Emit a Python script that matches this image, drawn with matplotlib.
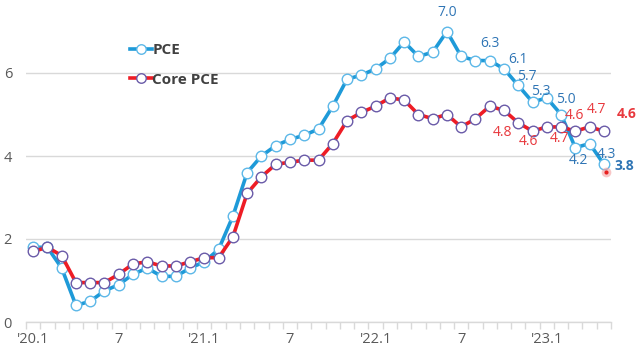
import matplotlib
matplotlib.use("Agg")
import matplotlib.pyplot as plt
import matplotlib.transforms as mtransforms

# ---- data ----
pce = [1.8, 1.8, 1.3, 0.4, 0.5, 0.75, 0.9, 1.15, 1.3, 1.1, 1.1, 1.3,
       1.45, 1.75, 2.55, 3.6, 4.0, 4.25, 4.4, 4.5, 4.65, 5.2, 5.85, 5.95,
       6.1, 6.35, 6.75, 6.4, 6.5, 7.0, 6.4, 6.3, 6.3, 6.1, 5.7, 5.3,
       5.4, 5.0, 4.2, 4.3, 3.8]
core = [1.7, 1.8, 1.6, 0.95, 0.95, 0.95, 1.15, 1.4, 1.45, 1.35, 1.35, 1.45,
        1.55, 1.55, 2.05, 3.1, 3.5, 3.8, 3.85, 3.9, 3.9, 4.3, 4.85, 5.05,
        5.2, 5.4, 5.35, 5.0, 4.9, 5.0, 4.7, 4.9, 5.2, 5.1, 4.8, 4.6,
        4.7, 4.7, 4.6, 4.7, 4.6]
tick_pos = [0, 6, 12, 18, 24, 30, 36]
tick_labels = ["'20.1", "7", "'21.1", "7", "'22.1", "7", "'23.1"]
pce_labels = {29: "7.0", 32: "6.3", 33: "6.1", 34: "5.7", 35: "5.3",
              37: "5.0", 38: "4.2", 39: "4.3", 40: "3.8"}
core_labels = {34: "4.8", 35: "4.6", 37: "4.7", 38: "4.6", 39: "4.7", 40: "4.6"}

# ---- style ----
plt.rcParams["font.family"] = ["Open Sans", "DejaVu Sans"]
blue = "#1E9AD8"
blue_edge = "#5DB8E8"
red = "#EE1C25"
purple_edge = "#6A5BA8"
lbl_blue = "#2F75B5"
lbl_red = "#E8383D"
gray_txt = "#595959"
grid_c = "#D9D9D9"

fig = plt.figure(figsize=(6.4, 3.59), dpi=100)
ax = fig.add_axes([26/640, 37/359, 585/640, 322/359])

x = list(range(len(pce)))
ax.plot(x, pce, color=blue, lw=2.6, marker="o", ms=7.6, mfc="white",
        mec=blue_edge, mew=1.0, label="PCE", zorder=3)
ax.plot(x, core, color=red, lw=2.6, marker="o", ms=7.6, mfc="white",
        mec=purple_edge, mew=1.0, label="Core PCE", zorder=4)

ax.set_xlim(-0.5, len(pce) - 0.5)
ax.set_ylim(0, 322/41.5)
ax.set_yticks([0, 2, 4, 6])
ax.yaxis.grid(True, color=grid_c, lw=1.0)
ax.set_axisbelow(True)
for s in ["top", "right", "left"]:
    ax.spines[s].set_visible(False)
ax.spines["bottom"].set_color(grid_c)
ax.spines["bottom"].set_linewidth(1.0)
ax.tick_params(axis="y", length=0, pad=10, labelsize=10.5, labelcolor=gray_txt)

ax.set_xticks([i - 0.5 for i in range(len(pce) + 1)])
ax.set_xticklabels([])
ax.tick_params(axis="x", which="major", length=5, color=grid_c, width=1)
ax.set_xticks(tick_pos, minor=True)
ax.set_xticklabels(tick_labels, minor=True)
ax.tick_params(axis="x", which="minor", length=0, pad=7, labelsize=10.5,
               labelcolor=gray_txt)

pce_off = {29: (0, 19), 32: (0, 17), 33: (14, 9), 34: (9, 9), 35: (8, 11),
           37: (5, 15), 38: (3, -13), 39: (17, -11), 40: (21, -2)}
core_off = {34: (-16, -10), 35: (-4, -10), 37: (-2, -12), 38: (-1, 16),
            39: (7, 17), 40: (23, 17)}
for i, t in pce_labels.items():
    bold = i == len(pce) - 1
    ax.annotate(t, (i, pce[i]), xytext=pce_off[i], textcoords="offset pixels",
                ha="center", va="center", fontsize=10, color=lbl_blue,
                fontweight="bold" if bold else "normal", zorder=6)
for i, t in core_labels.items():
    bold = i == len(core) - 1
    ax.annotate(t, (i, core[i]), xytext=core_off[i], textcoords="offset pixels",
                ha="center", va="center", fontsize=10, color=lbl_red,
                fontweight="bold" if bold else "normal", zorder=6)

# small red highlight dot below the last PCE point
tr = mtransforms.offset_copy(ax.transData, fig=fig, x=2, y=-8, units="dots")
ax.plot([len(pce) - 1], [pce[-1]], marker="o", ms=7, color="#F4A0A0", alpha=0.6,
        mec="none", transform=tr, zorder=7)
ax.plot([len(pce) - 1], [pce[-1]], marker="o", ms=3, color="#E82020",
        mec="none", transform=tr, zorder=8)

leg = ax.legend(loc="upper left", bbox_to_anchor=(0.178, 0.865), frameon=False,
                fontsize=11, handlelength=1.4, handletextpad=0.05,
                labelspacing=1.0, borderpad=0, borderaxespad=0,
                markerscale=0.9)
for txt in leg.get_texts():
    txt.set_color("#404040")
    txt.set_fontweight("bold")

fig.savefig("out.png", dpi=100)
